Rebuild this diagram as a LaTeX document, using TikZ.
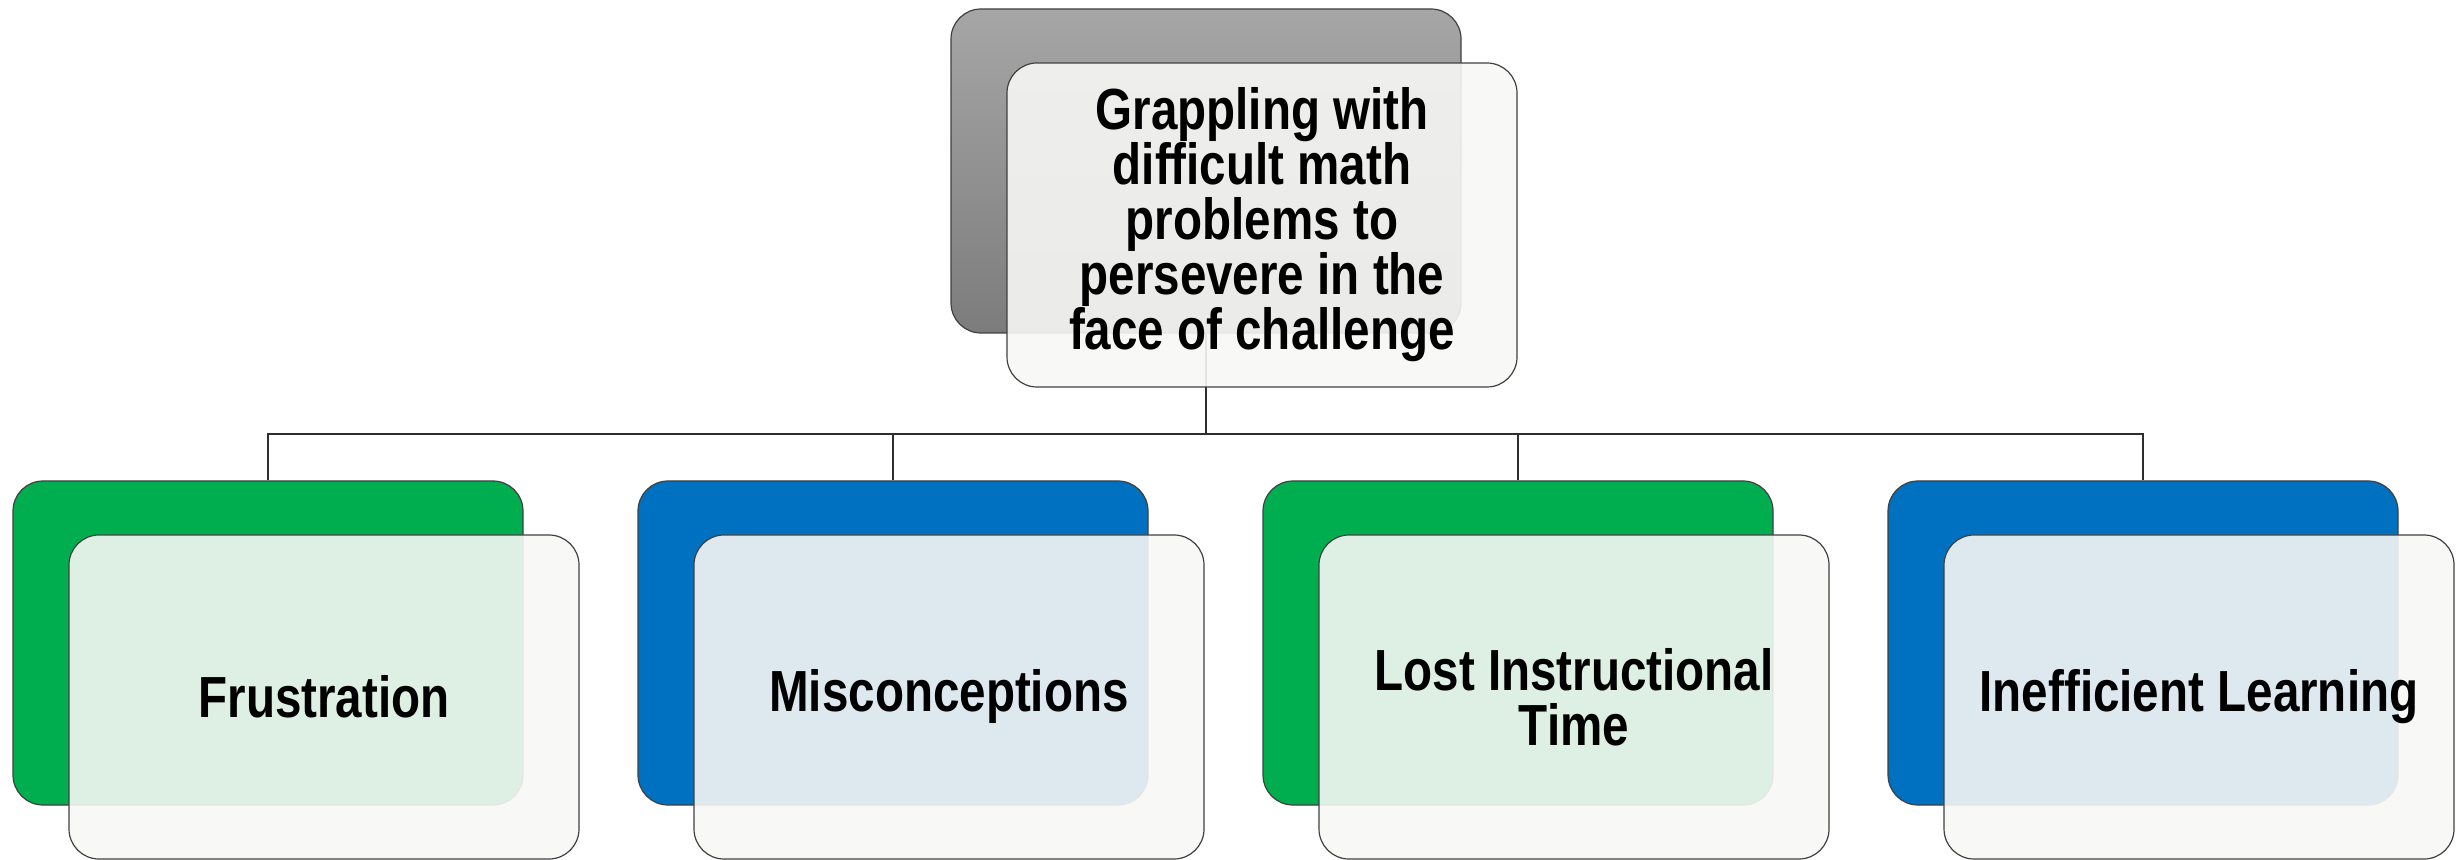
\documentclass[tikz,border=0pt]{standalone}
\usepackage{fontspec}
\setmainfont{Liberation Sans}[FakeStretch=0.82]
\usetikzlibrary{positioning}
\definecolor{edgegray}{HTML}{404040}
\definecolor{linkgray}{HTML}{2E2E2E}
\definecolor{cardgreen}{HTML}{00AE50}
\definecolor{cardblue}{HTML}{0070C0}
\definecolor{graytop}{HTML}{A6A6A6}
\definecolor{graybot}{HTML}{7C7C7C}
\definecolor{paper}{HTML}{F7F7F5}
\tikzset{
  backcard/.style={draw=edgegray, line width=0.6pt, rounded corners=15pt,
    minimum width=255pt, minimum height=162pt, inner sep=0pt},
  frontcard/.style={draw=edgegray, line width=0.6pt, rounded corners=15pt,
    fill=paper, fill opacity=0.9, text opacity=1,
    minimum width=255pt, minimum height=162pt, inner sep=0pt,
    align=center, font=\fontsize{29}{27.5}\selectfont\bfseries},
  link/.style={draw=linkgray, line width=1pt}
}
\begin{document}
\begin{tikzpicture}[x=0.5pt, y=-0.5pt]
  \useasboundingbox (0,0) rectangle (2456,860);

  % root card: shaded back plate
  \node[backcard, top color=graytop, bottom color=graybot] (tb) at (1206,171) {};

  % child back plates
  \node[backcard, fill=cardgreen] (b1) at (268,643) {};
  \node[backcard, fill=cardblue]  (b2) at (893,643) {};
  \node[backcard, fill=cardgreen] (b3) at (1518,643) {};
  \node[backcard, fill=cardblue]  (b4) at (2143,643) {};

  % tree connectors
  \coordinate (hub) at (1206,434);
  \draw[link] (tb.south) -- (hub);
  \foreach \k in {1,2,3,4} {
    \draw[link] (hub) -| (b\k.north);
  }

  % translucent front cards with the labels
  \node[frontcard] (tf) at (1262,225)
    {Grappling with\\difficult math\\problems to\\persevere in the\\face of challenge};
  \node[frontcard] (f1) at (324,697) {Frustration};
  \node[frontcard] (f2) at (949,697) {Misconceptions};
  \node[frontcard] (f3) at (1574,697) {Lost Instructional\\Time};
  \node[frontcard] (f4) at (2199,697) {Inefficient Learning};
\end{tikzpicture}
\end{document}
